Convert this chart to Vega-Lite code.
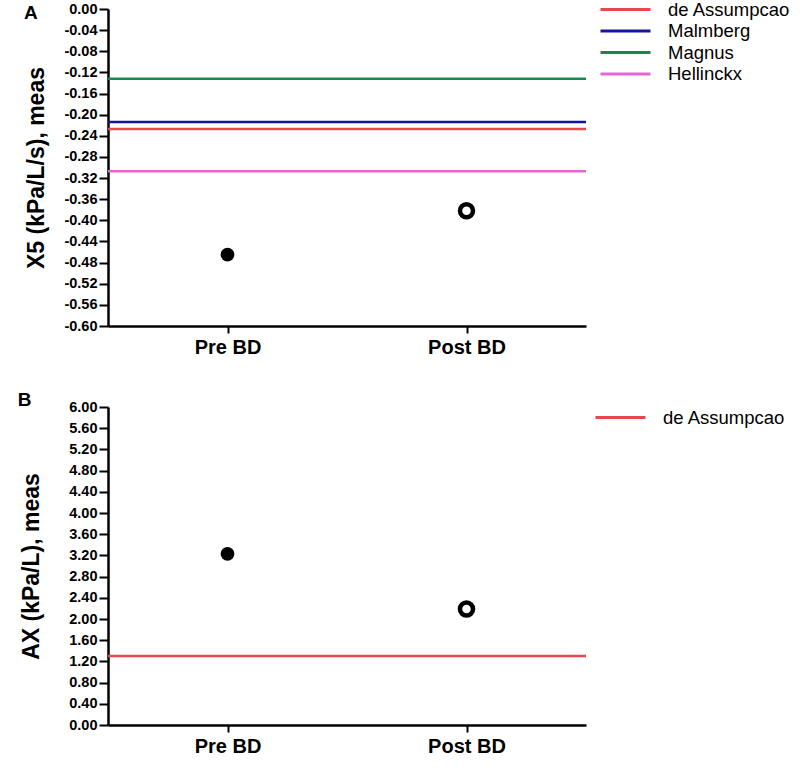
{
  "$schema": "https://vega.github.io/schema/vega-lite/v6.json",
  "padding": {"left": 17, "top": -2, "right": 5, "bottom": 5},
  "background": "white",
  "config": {
    "font": "Liberation Sans",
    "view": {"stroke": null},
    "axis": {
      "grid": false,
      "domainColor": "black",
      "domainWidth": 2.5,
      "tickColor": "black",
      "tickWidth": 2,
      "tickSize": 9,
      "labelFont": "Liberation Sans",
      "labelFontWeight": "bold",
      "labelColor": "black",
      "labelFontSize": 14.5,
      "labelPadding": 2,
      "labelOverlap": false,
      "labelBound": false,
      "titleFont": "Liberation Sans",
      "titleFontSize": 23,
      "titleFontWeight": "bold",
      "titleColor": "black"
    },
    "axisX": {"labelFontSize": 20, "labelPadding": 4, "labelAngle": 0, "tickSize": 7},
    "legend": {
      "labelFont": "Liberation Sans",
      "labelFontSize": 18.5,
      "labelColor": "black",
      "symbolType": "M-2.5,0H2.5",
      "symbolSize": 400,
      "symbolStrokeWidth": 3,
      "labelOffset": 31,
      "rowPadding": 0.5
    },
    "title": {"font": "Liberation Sans", "fontSize": 19, "fontWeight": "bold", "color": "black", "anchor": "start", "frame": "bounds"}
  },
  "spacing": 34,
  "resolve": {"scale": {"color": "independent"}, "legend": {"color": "independent"}},
  "vconcat": [
    {
      "width": 478,
      "height": 317,
      "title": {"text": "A", "offset": -25, "dx": -2},
      "layer": [
        {
          "data": {"values": [
            {"study": "de Assumpcao", "value": -0.227},
            {"study": "Malmberg", "value": -0.214},
            {"study": "Magnus", "value": -0.132},
            {"study": "Hellinckx", "value": -0.307}
          ]},
          "mark": {"type": "rule", "strokeWidth": 2.5},
          "encoding": {
            "y": {"field": "value", "type": "quantitative",
              "scale": {"domain": [-0.6, 0], "nice": false, "zero": false},
              "axis": {"title": "X5 (kPa/L/s), meas", "titlePadding": 15, "format": ".2f", "labelExpr": "replace(datum.label, '\u2212', '-')", "labelOverlap": false, "tickCount": 100,
                "values": [0, -0.04, -0.08, -0.12, -0.16, -0.2, -0.24, -0.28, -0.32, -0.36, -0.4, -0.44, -0.48, -0.52, -0.56, -0.6]}},
            "color": {"field": "study", "type": "nominal",
              "scale": {"domain": ["de Assumpcao", "Malmberg", "Magnus", "Hellinckx"], "range": ["#e8474c", "#1414a0", "#168a4e", "#e466d4"]},
              "legend": {"title": null, "orient": "none", "legendX": 506, "legendY": -11}}
          }
        },
        {
          "data": {"values": [
            {"phase": "Pre BD", "value": -0.465},
            {"phase": "Post BD", "value": -0.382}
          ]},
          "layer": [
            {
              "transform": [{"filter": "datum.phase == 'Pre BD'"}],
              "mark": {"type": "point", "shape": "circle", "filled": true, "color": "black", "opacity": 1, "size": 190}
            },
            {
              "transform": [{"filter": "datum.phase == 'Post BD'"}],
              "mark": {"type": "point", "shape": "circle", "filled": false, "stroke": "black", "fill": "white", "fillOpacity": 1, "opacity": 1, "strokeWidth": 4.5, "size": 170}
            }
          ],
          "encoding": {
            "x": {"field": "phase", "type": "nominal", "scale": {"domain": ["Pre BD", "Post BD"]}, "axis": {"title": null}},
            "y": {"field": "value", "type": "quantitative"}
          }
        }
      ]
    },
    {
      "width": 478,
      "height": 318,
      "title": {"text": "B", "offset": -11, "dx": -3},
      "layer": [
        {
          "data": {"values": [
            {"study": "de Assumpcao", "value": 1.3}
          ]},
          "mark": {"type": "rule", "strokeWidth": 2.5},
          "encoding": {
            "y": {"field": "value", "type": "quantitative",
              "scale": {"domain": [0, 6], "nice": false, "zero": true},
              "axis": {"title": "AX (kPa/L), meas", "titlePadding": 25, "format": ".2f", "labelOverlap": false, "tickCount": 100,
                "values": [0, 0.4, 0.8, 1.2, 1.6, 2.0, 2.4, 2.8, 3.2, 3.6, 4.0, 4.4, 4.8, 5.2, 5.6, 6.0]}},
            "color": {"field": "study", "type": "nominal",
              "scale": {"domain": ["de Assumpcao"], "range": ["#e8474c"]},
              "legend": {"title": null, "orient": "none", "legendX": 501, "legendY": -1}}
          }
        },
        {
          "data": {"values": [
            {"phase": "Pre BD", "value": 3.23},
            {"phase": "Post BD", "value": 2.19}
          ]},
          "layer": [
            {
              "transform": [{"filter": "datum.phase == 'Pre BD'"}],
              "mark": {"type": "point", "shape": "circle", "filled": true, "color": "black", "opacity": 1, "size": 190}
            },
            {
              "transform": [{"filter": "datum.phase == 'Post BD'"}],
              "mark": {"type": "point", "shape": "circle", "filled": false, "stroke": "black", "fill": "white", "fillOpacity": 1, "opacity": 1, "strokeWidth": 4.5, "size": 170}
            }
          ],
          "encoding": {
            "x": {"field": "phase", "type": "nominal", "scale": {"domain": ["Pre BD", "Post BD"]}, "axis": {"title": null}},
            "y": {"field": "value", "type": "quantitative"}
          }
        }
      ]
    }
  ]
}
